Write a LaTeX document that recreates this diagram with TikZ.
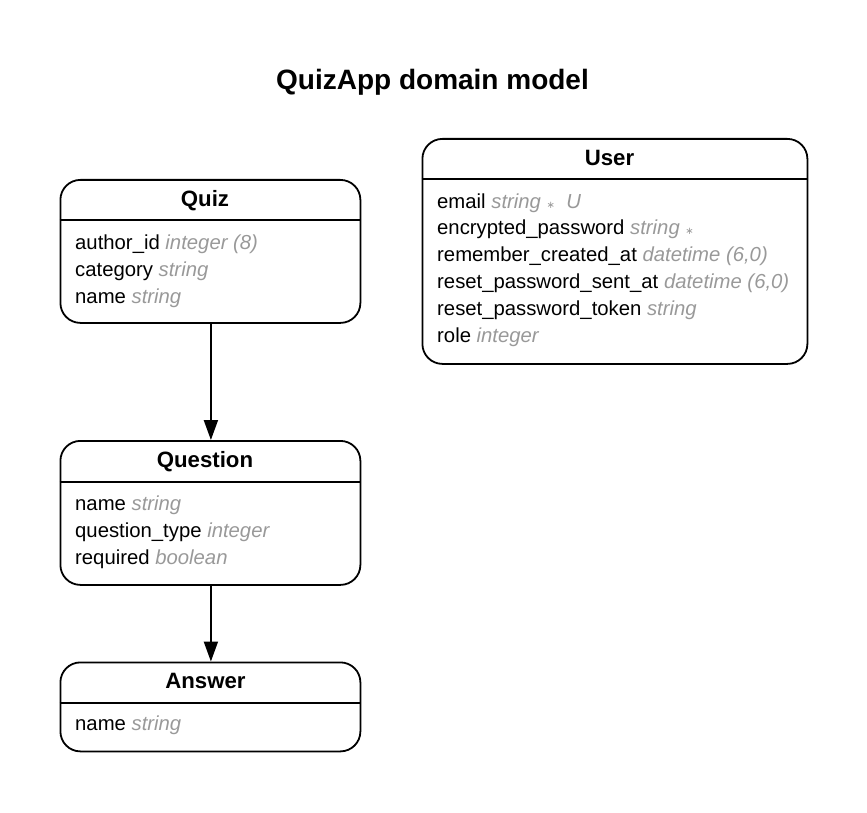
\documentclass[tikz,border=0pt]{standalone}
\usepackage{fontspec}
\setmainfont{Liberation Sans}
\newfontfamily\djv{DejaVu Sans}
\usetikzlibrary{arrows.meta}
\definecolor{typegrey}{HTML}{999999}
\newcommand{\tp}[1]{{\color{typegrey}\itshape #1}}
\newcommand{\req}{{\color{typegrey}\djv\fontsize{10}{10}\selectfont ∗}}
\tikzset{
  entity/.style={draw, line width=1.8pt, rounded corners=20pt, anchor=north west, inner sep=0pt, minimum width=#1},
  entity/.default=300pt,
  divider/.style={line width=1.8pt},
  head/.style={anchor=base, inner sep=0pt, font=\bfseries\fontsize{22.2}{26}\selectfont},
  attr/.style={anchor=base west, inner sep=0pt, font=\fontsize{20.3}{24}\selectfont},
  conn/.style={line width=2pt, -{Triangle[length=20pt,width=14pt]}},
  titletext/.style={anchor=base, inner sep=0pt, font=\bfseries\fontsize{28}{32}\selectfont}
}
\begin{document}
\begin{tikzpicture}[x=1pt,y=-1pt]
\useasboundingbox (0,0) rectangle (867,813);
\node[titletext] (title) at (432.5,90) {QuizApp domain model};

% Quiz
\node[entity, minimum height=143pt] (quiz) at (59.5,179) {};
\draw[divider] (quiz.west |- 0,220) -- (quiz.east |- 0,220);
\node[head] (quizh) at (205,206.7) {Quiz};
\node[attr] (quiz1) at (75,249) {author\_id \tp{integer (8)}};
\node[attr] (quiz2) at (75,276) {category \tp{string}};
\node[attr] (quiz3) at (75,303) {name \tp{string}};

% User
\node[entity=385pt, minimum height=225pt] (user) at (421.5,138) {};
\draw[divider] (user.west |- 0,179) -- (user.east |- 0,179);
\node[head] (userh) at (609.5,165.5) {User};
\node[attr] (user1) at (437,208) {email \tp{string} \req{}\ \ \tp{U}};
\node[attr] (user2) at (437,234.8) {encrypted\_password \tp{string} \req};
\node[attr] (user3) at (437,261.6) {remember\_created\_at \tp{datetime (6,0)}};
\node[attr] (user4) at (437,288.4) {reset\_password\_sent\_at \tp{datetime (6,0)}};
\node[attr] (user5) at (437,315.2) {reset\_password\_token \tp{string}};
\node[attr] (user6) at (437,342) {role \tp{integer}};

% Question
\node[entity, minimum height=144pt] (question) at (59.5,440) {};
\draw[divider] (question.west |- 0,481.7) -- (question.east |- 0,481.7);
\node[head] (questionh) at (205,467) {Question};
\node[attr] (question1) at (75,510) {name \tp{string}};
\node[attr] (question2) at (75,537) {question\_type \tp{integer}};
\node[attr] (question3) at (75,564) {required \tp{boolean}};

% Answer
\node[entity, minimum height=89pt] (answer) at (59.5,661.5) {};
\draw[divider] (answer.west |- 0,702.7) -- (answer.east |- 0,702.7);
\node[head] (answerh) at (205.5,688.3) {Answer};
\node[attr] (answer1) at (75,730.7) {name \tp{string}};

\draw[conn] ([xshift=0.5pt]quiz.south) -- ([xshift=0.5pt]question.north);
\draw[conn] ([xshift=0.5pt]question.south) -- ([xshift=0.5pt]answer.north);
\end{tikzpicture}
\end{document}
